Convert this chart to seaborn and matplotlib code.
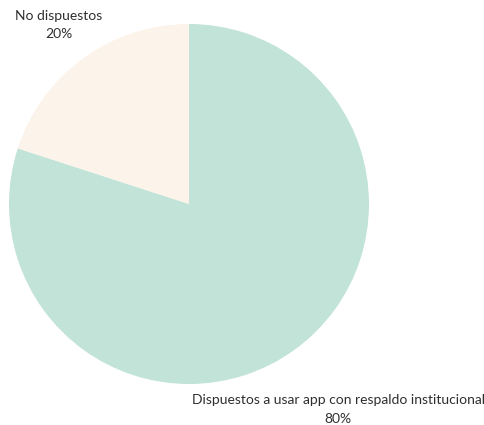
import numpy as np
import matplotlib
matplotlib.use("Agg")
import matplotlib.pyplot as plt
import seaborn as sns

categories = ["Dispuestos a usar app con respaldo institucional", "No dispuestos"]
shares = [80, 20]
colors = ["#c2e3d7", "#fcf3ea"]
label_dist = [1.41, 1.23]

sns.set_theme(style="white")
plt.rcParams["font.family"] = ["Lato", "DejaVu Sans"]

fig = plt.figure(figsize=(4.84, 4.25), dpi=100)
cx, cy, r = 189, 204, 180
ax = fig.add_axes([(cx - r) / 484, (425 - cy - r) / 425, 2 * r / 484, 2 * r / 425])

wedges, _ = ax.pie(shares, colors=colors, startangle=90, counterclock=False,
                   radius=1.0, wedgeprops=dict(linewidth=0))

for w, name, val, d in zip(wedges, categories, shares, label_dist):
    mid = np.deg2rad((w.theta1 + w.theta2) / 2)
    ax.text(d * np.cos(mid), d * np.sin(mid), f"{name}\n{val}%",
            ha="center", va="center", fontsize=10, color="#2f2f2f",
            linespacing=1.65, clip_on=False)

ax.set_xlim(-1, 1)
ax.set_ylim(-1, 1)
ax.set_aspect("equal")
ax.axis("off")

fig.savefig("out.png", dpi=100)
